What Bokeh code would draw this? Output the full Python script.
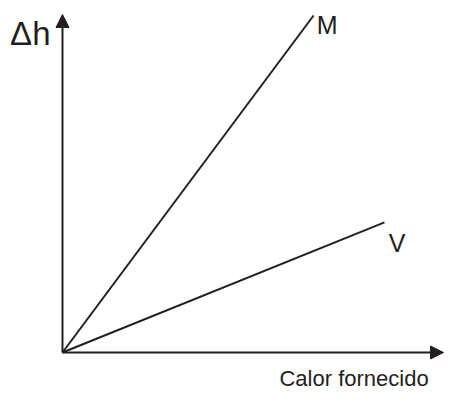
from bokeh.plotting import figure
from bokeh.models import Range1d, Arrow, NormalHead
from bokeh.core.properties import value
from bokeh.embed import file_html
from bokeh.resources import INLINE

# Data (arbitrary units: heat supplied vs height change)
heat_M = [0.0, 6.59]
dh_M = [0.0, 9.97]
heat_V = [0.0, 8.45]
dh_V = [0.0, 3.85]
axis_max_x = 10.0
axis_max_y = 10.0
series_labels = ["M", "V"]
x_label = "Calor fornecido"
y_label = "Δh"

INK = "#231f20"
FONT = "Liberation Sans"

p = figure(width=444, height=392, output_backend="svg", toolbar_location=None,
           x_range=Range1d(-1.627, 10.026), y_range=Range1d(-1.183, 10.414),
           min_border=0)
p.axis.visible = False
p.grid.visible = False
p.outline_line_color = None

# axes with arrows
p.add_layout(Arrow(end=NormalHead(size=13, fill_color=INK, line_color=INK, line_width=1),
                   x_start=0, y_start=0, x_end=axis_max_x, y_end=0,
                   line_color=INK, line_width=2))
p.add_layout(Arrow(end=NormalHead(size=13, fill_color=INK, line_color=INK, line_width=1),
                   x_start=0, y_start=0, x_end=0, y_end=axis_max_y,
                   line_color=INK, line_width=2))

p.line(heat_M, dh_M, line_color=INK, line_width=2)
p.line(heat_V, dh_V, line_color=INK, line_width=2)

# labels
p.text(x=[heat_M[-1] + 0.08], y=[9.68], text=[series_labels[0]], text_font=value(FONT),
       text_font_size="25px", text_color=INK, text_align="left", text_baseline="alphabetic")
p.text(x=[heat_V[-1] + 0.11], y=[3.23], text=[series_labels[1]], text_font=value(FONT),
       text_font_size="25px", text_color=INK, text_align="left", text_baseline="alphabetic")
p.text(x=[-0.315], y=[9.44], text=[y_label], text_font=value(FONT),
       text_font_size="33px", text_color=INK, text_align="right", text_baseline="alphabetic")
p.text(x=[9.61], y=[-0.77], text=[x_label], text_font=value(FONT),
       text_font_size="22px", text_color=INK, text_align="right", text_baseline="alphabetic")

open("out.html", "w").write(file_html(p, INLINE))
